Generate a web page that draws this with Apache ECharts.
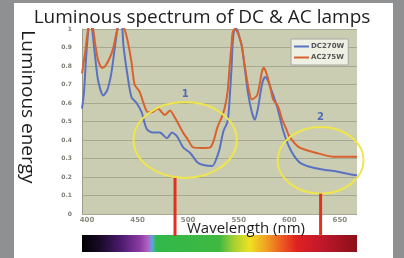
<!DOCTYPE html>
<html>
<head>
<meta charset="utf-8">
<style>
html,body{margin:0;padding:0;background:#8e9092;}
#panel{position:absolute;left:14px;top:3px;width:379px;height:255px;background:#fff;}
#chart{position:absolute;left:0;top:0;width:404px;height:258px;}
</style>
<script src="https://cdn.jsdelivr.net/npm/echarts@6/dist/echarts.min.js"></script>
</head>
<body>
<div id="panel"></div>
<div id="chart"></div>
<script>
// DC270W curve (wavelength nm / luminous energy)
var dcNm  = [395,397,399,401,403,405,408,411,416,420,424,427,430,432,434,436,440,444,449,454,459,465,472,479,484,489,495,502,509,515,524,528,531,535,539,541,543,544,546,548,551,553,556,559,563,566,569,573,576,579,581,588,594,601,610,620,633,647,660,667];
var dcVal = [0.57,0.66,0.84,0.98,1.05,1.0,0.85,0.72,0.64,0.67,0.76,0.88,1.0,1.05,1.05,0.91,0.75,0.63,0.60,0.55,0.46,0.44,0.44,0.41,0.44,0.42,0.36,0.33,0.28,0.265,0.26,0.30,0.35,0.45,0.50,0.62,0.80,0.92,1.0,1.0,0.95,0.91,0.79,0.66,0.55,0.51,0.57,0.70,0.74,0.72,0.69,0.58,0.45,0.35,0.28,0.255,0.24,0.23,0.215,0.21];
// AC275W curve
var acNm  = [395,398,401,403,406,408,411,415,418,423,426,430,433,437,440,444,447,452,457,460,464,470,477,482,487,492,495,500,505,515,522,526,529,533,536,539,541,543,544,546,549,553,556,559,563,568,571,573,575,578,581,584,589,593,597,600,610,627,643,667];
var acVal = [0.76,0.87,1.0,1.05,1.0,0.92,0.83,0.79,0.80,0.85,0.90,1.0,1.05,1.0,0.94,0.82,0.70,0.66,0.58,0.55,0.55,0.57,0.535,0.56,0.52,0.47,0.44,0.40,0.36,0.357,0.36,0.41,0.47,0.52,0.57,0.66,0.80,0.92,0.98,1.0,0.98,0.91,0.80,0.70,0.62,0.64,0.71,0.77,0.79,0.75,0.69,0.62,0.58,0.51,0.46,0.42,0.36,0.33,0.31,0.31];
var xTicks = [400,450,500,550,600,650];

// annotations in data units: circled zones and the red pointer lines
var zoneLabels = ['1','2'];
var zoneCenters = [[497,0.40],[631,0.29]];
var zoneRadii = [[51,0.205],[42.5,0.18]];
var labelAt = [[497,0.645],[631,0.52]];
var pointerNm = [487,631];

// spectrum strip colours
var spectrumStops = [
    [0,'#000000'],[0.07,'#1c0b2c'],[0.14,'#4a1a6c'],[0.21,'#8a3aa2'],[0.24,'#b062c2'],
    [0.255,'#5ea4e2'],[0.27,'#30b84a'],[0.50,'#40b842'],[0.55,'#a2d032'],[0.61,'#f0e022'],
    [0.67,'#f0a022'],[0.72,'#ee6222'],[0.78,'#e02222'],[0.87,'#c0182a'],[1,'#8a101a']
];

function pairs(a, b){
    var out = [];
    for (var i = 0; i < a.length; i++) out.push([a[i], b[i]]);
    return out;
}

var chart = echarts.init(document.getElementById('chart'));

var option = {
    animation: false,
    title: {
        text: 'Luminous spectrum of DC & AC lamps',
        left: 'center', top: 3,
        textStyle: {fontFamily: 'Open Sans', fontSize: 19, fontWeight: 'normal', color: '#1e1e1e'}
    },
    legend: {
        data: [{name: 'DC270W', icon: 'rect'}, {name: 'AC275W', icon: 'rect'}],
        orient: 'vertical',
        left: 291, top: 39,
        itemWidth: 15, itemHeight: 2, itemGap: 4,
        padding: [4,4,4,3],
        backgroundColor: '#eef0e4', borderColor: '#a8a8a0', borderWidth: 1,
        textStyle: {fontFamily: 'DejaVu Sans', fontSize: 7, fontWeight: 'bold', color: '#555', padding: [0,0,0,-3]}
    },
    grid: {left: 82, right: 47, top: 29, bottom: 44, show: true, backgroundColor: '#cbcdb3', borderWidth: 0},
    xAxis: {
        type: 'value', min: 395, max: 667,
        axisLine: {show: false},
        axisTick: {show: false},
        splitLine: {show: false},
        axisLabel: {customValues: xTicks, margin: 3, fontSize: 7, fontWeight: 'bold', color: '#8a8a80', fontFamily: 'DejaVu Sans'}
    },
    yAxis: {
        type: 'value', min: 0, max: 1, interval: 0.1,
        axisLine: {show: true, lineStyle: {color: '#9c9c8c'}},
        axisTick: {show: false},
        splitLine: {lineStyle: {color: '#a6a892', width: 1}},
        axisLabel: {margin: 10, fontSize: 6, fontWeight: 'bold', color: '#7a7a72', fontFamily: 'DejaVu Sans'}
    },
    series: [
        {name: 'DC270W', type: 'line', data: pairs(dcNm, dcVal), symbol: 'none', smooth: 0.25,
         lineStyle: {color: '#5a72c0', width: 2}, itemStyle: {color: '#5a72c0'}},
        {name: 'AC275W', type: 'line', data: pairs(acNm, acVal), symbol: 'none', smooth: 0.25,
         lineStyle: {color: '#d8622e', width: 2}, itemStyle: {color: '#d8622e'}}
    ]
};
chart.setOption(option);

function px(p){ return chart.convertToPixel({gridIndex: 0}, p); }

var barTop = 235, barBottom = 252;
var left = px([395,0])[0], right = px([667,0])[0];
var g = [];
g.push({
    type: 'rect', z: 100,
    shape: {x: left, y: barTop, width: right - left, height: barBottom - barTop},
    style: {fill: new echarts.graphic.LinearGradient(0,0,1,0, spectrumStops.map(function(s){ return {offset: s[0], color: s[1]}; }))}
});
for (var i = 0; i < zoneLabels.length; i++) {
    var c = px(zoneCenters[i]);
    var e = px([zoneCenters[i][0] + zoneRadii[i][0], zoneCenters[i][1] + zoneRadii[i][1]]);
    var rx = e[0] - c[0], ry = c[1] - e[1];
    g.push({type: 'ellipse', z: 100, shape: {cx: c[0], cy: c[1], rx: rx, ry: ry},
            style: {fill: null, stroke: '#eee64a', lineWidth: 2}});
    var lp = px(labelAt[i]);
    g.push({type: 'text', z: 100, x: lp[0], y: lp[1],
            style: {text: zoneLabels[i], fill: '#4f6cb4', font: 'bold 10px "DejaVu Sans"', align: 'center', verticalAlign: 'middle'}});
    var lx = px([pointerNm[i], 0])[0];
    g.push({type: 'line', z: 101, shape: {x1: lx, y1: c[1] + ry, x2: lx, y2: barTop + 1},
            style: {stroke: '#e2321e', lineWidth: 3}});
}
g.push({type: 'text', z: 110, x: 246, y: 229,
        style: {text: 'Wavelength (nm)', fill: '#1e1e1e', font: '15px "Open Sans"', align: 'center', verticalAlign: 'middle'}});
g.push({type: 'text', z: 110, x: 27, y: 107, rotation: -Math.PI / 2,
        style: {text: 'Luminous energy', fill: '#1e1e1e', font: '19px "Open Sans"', align: 'center', verticalAlign: 'middle'}});
chart.setOption({graphic: {elements: g}});
</script>
</body>
</html>
